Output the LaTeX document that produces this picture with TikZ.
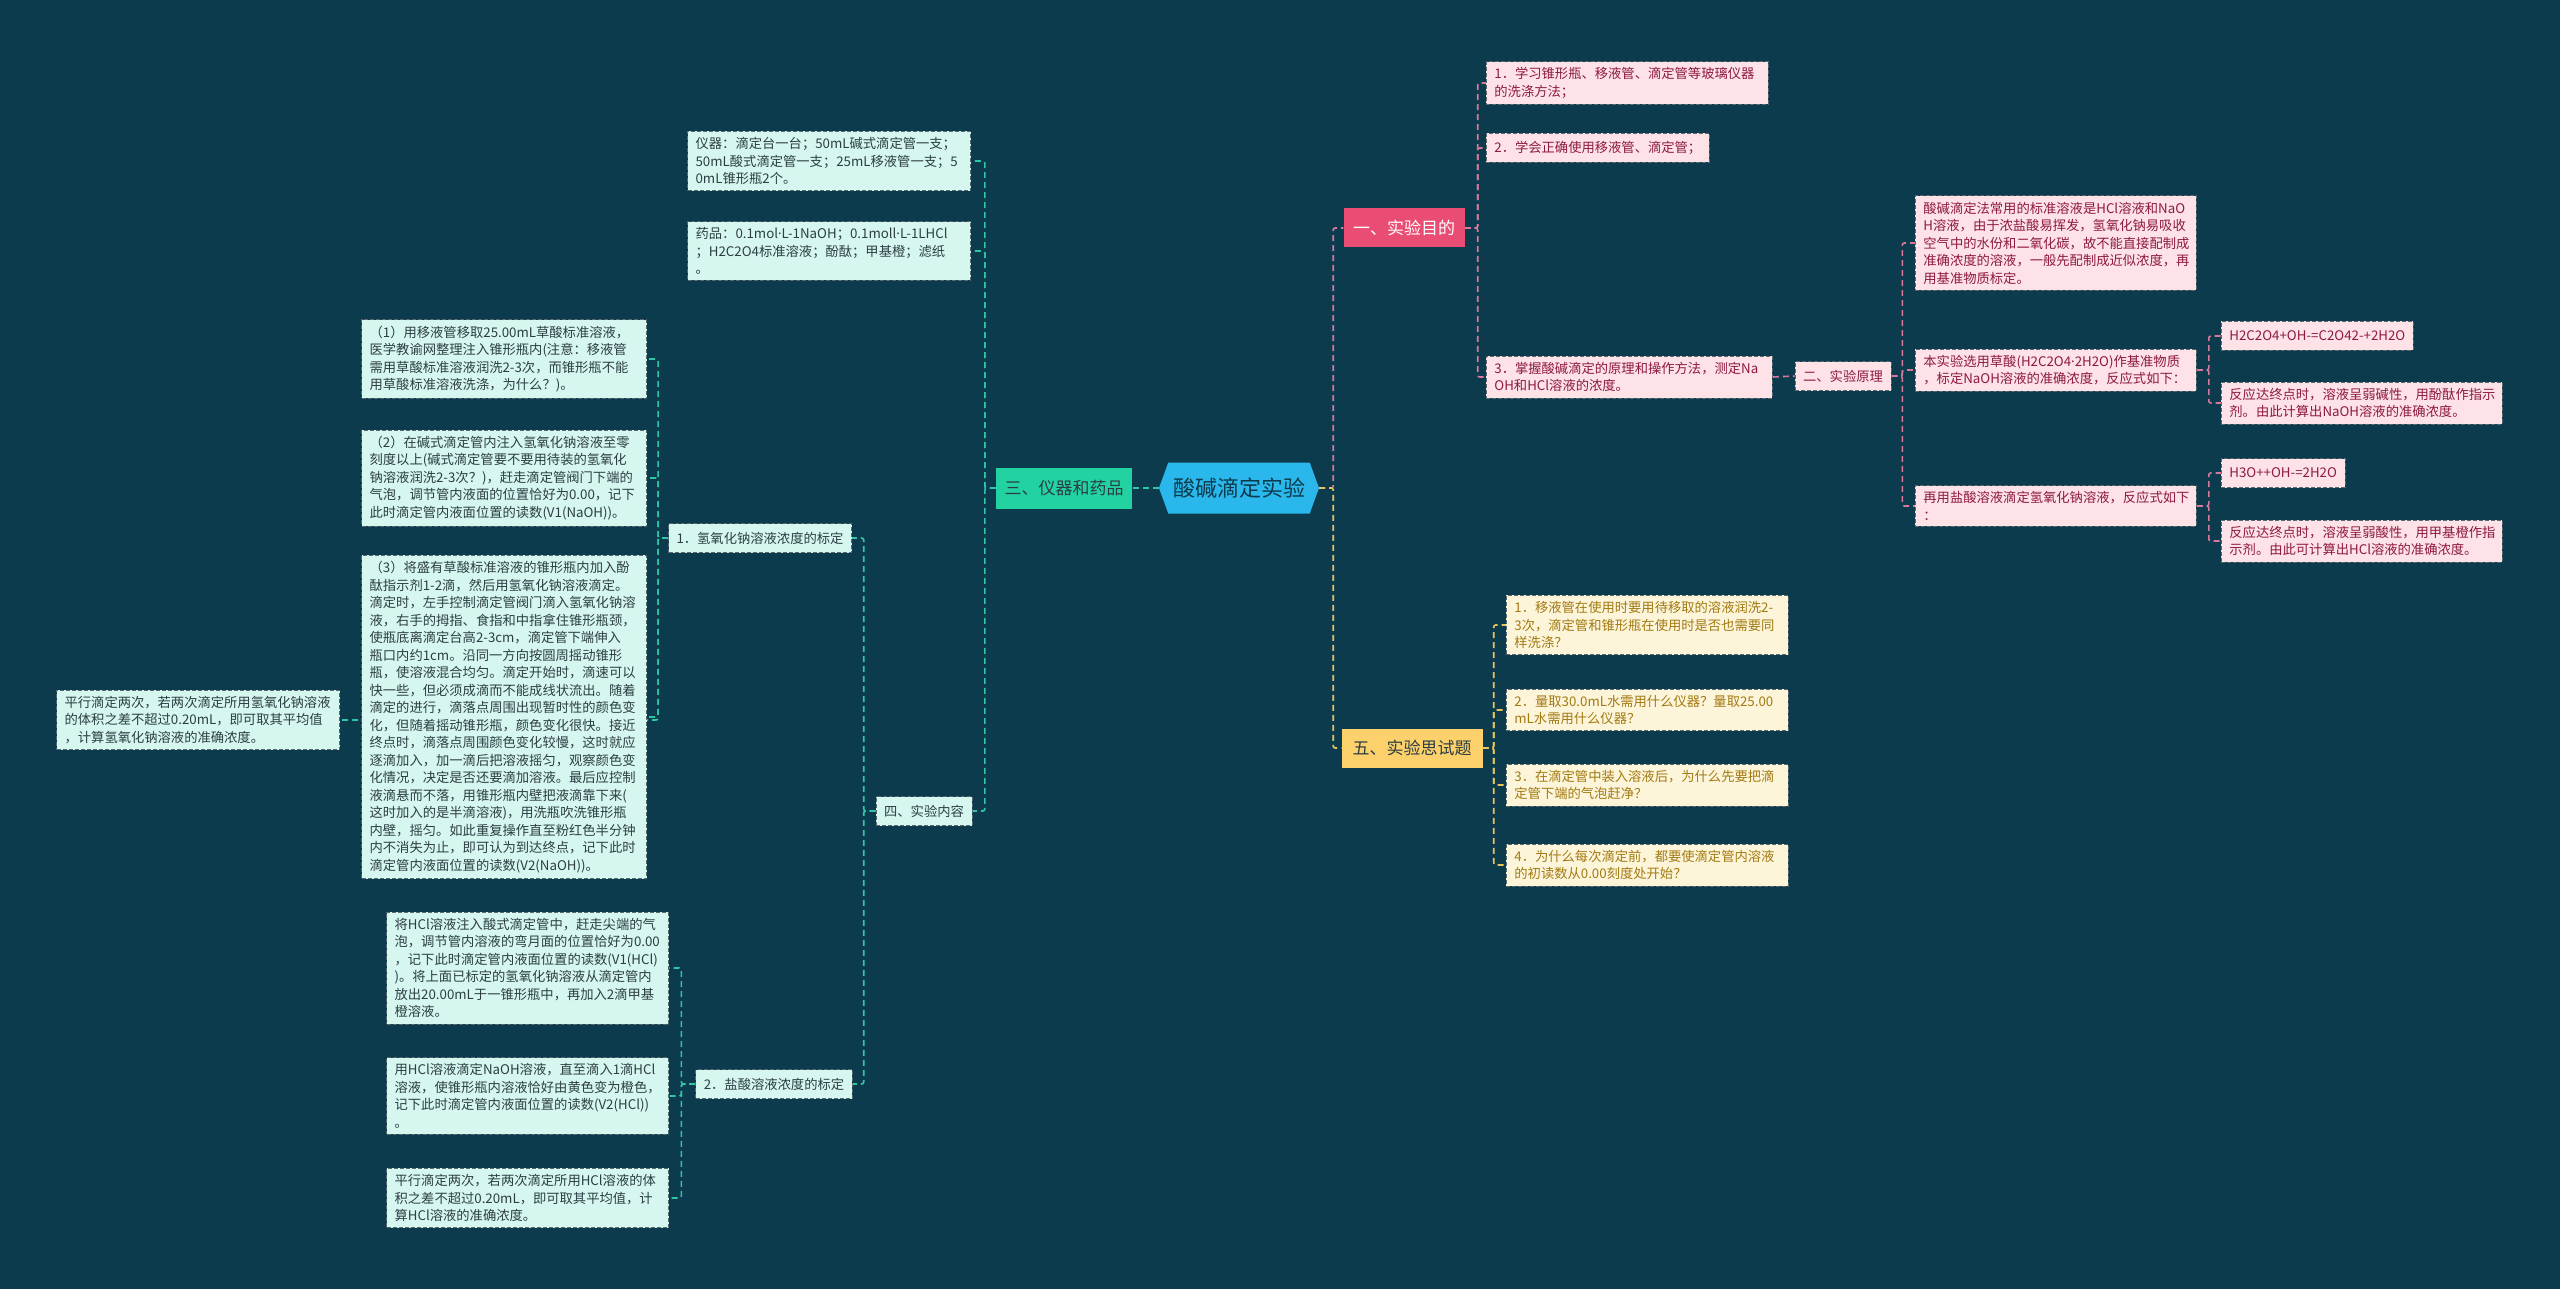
\documentclass[tikz,border=0pt]{standalone}
\usepackage{fontspec}
\setmainfont{Noto Sans CJK SC}
\newfontfamily\latinfont{Noto Sans}
\newcommand{\mydot}{{\latinfont ·}}
\usetikzlibrary{shapes.symbols,backgrounds}
\setlength{\parindent}{0pt}
\exhyphenpenalty=10000
\hyphenpenalty=10000
\definecolor{bgc}{HTML}{0B3B4C}
\definecolor{pkfill}{HTML}{FDE2E7}
\definecolor{pktext}{HTML}{8E1A40}
\definecolor{pkline}{HTML}{D8789A}
\definecolor{mtfill}{HTML}{D6F7EF}
\definecolor{mttext}{HTML}{2C3E44}
\definecolor{mtline}{HTML}{2EC7A6}
\definecolor{ylfill}{HTML}{FDF5DA}
\definecolor{yltext}{HTML}{A27A12}
\definecolor{ylline}{HTML}{E9C45C}
\definecolor{boxline}{HTML}{56686D}
\definecolor{brpk}{HTML}{EA4D73}
\definecolor{brmt}{HTML}{22D3A1}
\definecolor{bryl}{HTML}{FCD06A}
\definecolor{ctr}{HTML}{2AB8EC}
\tikzset{
  base/.style={font=\fontsize{13.3}{17.5}\selectfont, inner xsep=8pt, inner ysep=6pt, align=left,
    minimum height=29pt, draw=boxline, line width=0.8pt, dash pattern=on 4pt off 2pt},
  pk/.style={base, fill=pkfill, text=pktext},
  mt/.style={base, fill=mtfill, text=mttext},
  yl/.style={base, fill=ylfill, text=yltext},
  branch/.style={font=\fontsize{17}{20}\selectfont, inner xsep=8pt, minimum height=39pt},
  conn/.style={line width=1.6pt, dash pattern=on 6pt off 4pt, rounded corners=2pt},
  pkc/.style={conn, draw=pkline},
  mtc/.style={conn, draw=mtline},
  ylc/.style={conn, draw=ylline},
}
\begin{document}
\begin{tikzpicture}[x=1pt,y=-1pt]
\useasboundingbox (0,0) rectangle (2560,1289);

% center and branches
\node[signal, signal to=west and east, signal pointer angle=140, fill=ctr, text=bgc,
  font=\fontsize{22}{26}\selectfont, minimum height=51pt, minimum width=160pt, inner xsep=4pt] (ctr) at (1239,488) {酸碱滴定实验};
\node[branch, fill=brpk, text=white, minimum width=121pt] (b1) at (1404,228) {一、实验目的};
\node[branch, fill=brmt, text=mttext, minimum width=136pt, minimum height=41pt] (b3) at (1064,488) {三、仪器和药品};
\node[branch, fill=bryl, text=mttext, minimum width=141pt] (b5) at (1412,748) {五、实验思试题};

% branch 1
\node[pk, anchor=west, text width=266pt] (p1) at (1486,83) {1．学习锥形瓶、移液管、滴定管等玻璃仪器\\的洗涤方法；};
\node[pk, anchor=west] (p2) at (1486,148) {2．学会正确使用移液管、滴定管；};
\node[pk, anchor=west, text width=270pt] (p3) at (1486,377) {3．掌握酸碱滴定的原理和操作方法，测定Na\\OH和HCl溶液的浓度。};
\node[pk] (p4) at (1843,376) {二、实验原理};
\node[pk, anchor=west, text width=265pt] (r1) at (1915,243) {酸碱滴定法常用的标准溶液是HCl溶液和NaO\\H溶液，由于浓盐酸易挥发，氢氧化钠易吸收\\空气中的水份和二氧化碳，故不能直接配制成\\准确浓度的溶液，一般先配制成近似浓度，再\\用基准物质标定。};
\node[pk, anchor=west, text width=265pt] (r2) at (1915,370) {本实验选用草酸(H2C2O4\mydot 2H2O)作基准物质\\，标定NaOH溶液的准确浓度，反应式如下：};
\node[pk, anchor=west, text width=265pt] (r3) at (1915,506) {再用盐酸溶液滴定氢氧化钠溶液，反应式如下\\：};
\node[pk, anchor=west] (e1) at (2221,336) {H2C2O4+OH-=C2O42-+2H2O};
\node[pk, anchor=west, text width=265pt] (e2) at (2221,403) {反应达终点时，溶液呈弱碱性，用酚酞作指示\\剂。由此计算出NaOH溶液的准确浓度。};
\node[pk, anchor=west] (e3) at (2221,473) {H3O++OH-=2H2O};
\node[pk, anchor=west, text width=265pt] (e4) at (2221,541) {反应达终点时，溶液呈弱酸性，用甲基橙作指\\示剂。由此可计算出HCl溶液的准确浓度。};

% branch 5
\node[yl, anchor=west, text width=266pt] (y1) at (1506,625) {1．移液管在使用时要用待移取的溶液润洗2-\\3次，滴定管和锥形瓶在使用时是否也需要同\\样洗涤？};
\node[yl, anchor=west, text width=266pt] (y2) at (1506,710) {2．量取30.0mL水需用什么仪器？量取25.00\\mL水需用什么仪器？};
\node[yl, anchor=west, text width=266pt] (y3) at (1506,785) {3．在滴定管中装入溶液后，为什么先要把滴\\定管下端的气泡赶净？};
\node[yl, anchor=west, text width=266pt] (y4) at (1506,865) {4．为什么每次滴定前，都要使滴定管内溶液\\的初读数从0.00刻度处开始？};

% branch 3
\node[mt, anchor=east, text width=267pt] (m1) at (971,161) {仪器：滴定台一台；50mL碱式滴定管一支；\\50mL酸式滴定管一支；25mL移液管一支；5\\0mL锥形瓶2个。};
\node[mt, anchor=east, text width=267pt] (m2) at (971,251) {药品：0.1mol\mydot L-1NaOH；0.1moll\mydot L-1LHCl\\；H2C2O4标准溶液；酚酞；甲基橙；滤纸\\。};
\node[mt] (m4) at (924,811) {四、实验内容};
\node[mt] (n1) at (760,538) {1．氢氧化钠溶液浓度的标定};
\node[mt] (n2) at (774,1084) {2．盐酸溶液浓度的标定};
\node[mt, anchor=east, text width=269pt] (s1) at (647,359) {（1）用移液管移取25.00mL草酸标准溶液，\\医学教谕网整理注入锥形瓶内(注意：移液管\\需用草酸标准溶液润洗2-3次，而锥形瓶不能\\用草酸标准溶液洗涤，为什么？)。};
\node[mt, anchor=east, text width=269pt] (s2) at (647,478) {（2）在碱式滴定管内注入氢氧化钠溶液至零\\刻度以上(碱式滴定管要不要用待装的氢氧化\\钠溶液润洗2-3次？)，赶走滴定管阀门下端的\\气泡，调节管内液面的位置恰好为0.00，记下\\此时滴定管内液面位置的读数(V1(NaOH))。};
\node[mt, anchor=east, text width=269pt] (s3) at (647,717) {（3）将盛有草酸标准溶液的锥形瓶内加入酚\\酞指示剂1-2滴，然后用氢氧化钠溶液滴定。\\滴定时，左手控制滴定管阀门滴入氢氧化钠溶\\液，右手的拇指、食指和中指拿住锥形瓶颈，\\使瓶底离滴定台高2-3cm，滴定管下端伸入\\瓶口内约1cm。沿同一方向按圆周摇动锥形\\瓶，使溶液混合均匀。滴定开始时，滴速可以\\快一些，但必须成滴而不能成线状流出。随着\\滴定的进行，滴落点周围出现暂时性的颜色变\\化，但随着摇动锥形瓶，颜色变化很快。接近\\终点时，滴落点周围颜色变化较慢，这时就应\\逐滴加入，加一滴后把溶液摇匀，观察颜色变\\化情况，决定是否还要滴加溶液。最后应控制\\液滴悬而不落，用锥形瓶内壁把液滴靠下来(\\这时加入的是半滴溶液)，用洗瓶吹洗锥形瓶\\内壁，摇匀。如此重复操作直至粉红色半分钟\\内不消失为止，即可认为到达终点，记下此时\\滴定管内液面位置的读数(V2(NaOH))。};
\node[mt, anchor=east, text width=267pt] (s4) at (340,720) {平行滴定两次，若两次滴定所用氢氧化钠溶液\\的体积之差不超过0.20mL，即可取其平均值\\，计算氢氧化钠溶液的准确浓度。};
\node[mt, anchor=east, text width=266pt] (t1) at (669,968) {将HCl溶液注入酸式滴定管中，赶走尖端的气\\泡，调节管内溶液的弯月面的位置恰好为0.00\\，记下此时滴定管内液面位置的读数(V1(HCl)\\)。将上面已标定的氢氧化钠溶液从滴定管内\\放出20.00mL于一锥形瓶中，再加入2滴甲基\\橙溶液。};
\node[mt, anchor=east, text width=266pt] (t2) at (669,1096) {用HCl溶液滴定NaOH溶液，直至滴入1滴HCl\\溶液，使锥形瓶内溶液恰好由黄色变为橙色，\\记下此时滴定管内液面位置的读数(V2(HCl))\\。};
\node[mt, anchor=east, text width=266pt] (t3) at (669,1198) {平行滴定两次，若两次滴定所用HCl溶液的体\\积之差不超过0.20mL，即可取其平均值，计\\算HCl溶液的准确浓度。};

\begin{pgfonlayer}{background}
\fill[bgc] (0,0) rectangle (2560,1289);
% center connectors
\draw[pkc] (ctr.east) -- ++(14,0) |- (b1.west);
\draw[ylc] (ctr.east) -- ++(14,0) |- (b5.west);
\draw[mtc] (ctr.west) -- (b3.east);
% branch 1
\foreach \c in {p1,p2,p3} \draw[pkc] (b1.east) -- ++(13,0) |- (\c.west);
\draw[pkc] (p3.east) -- (p4.west);
\foreach \c in {r1,r2,r3} \draw[pkc] (p4.east) -- ++(11,0) |- (\c.west);
\foreach \c in {e1,e2} \draw[pkc] (r2.east) -- ++(12,0) |- (\c.west);
\foreach \c in {e3,e4} \draw[pkc] (r3.east) -- ++(12,0) |- (\c.west);
% branch 5
\foreach \c in {y1,y2,y3,y4} \draw[ylc] (b5.east) -- ++(11,0) |- (\c.west);
% branch 3
\foreach \c in {m1,m2,m4} \draw[mtc] (b3.west) -- ++(-11,0) |- (\c.east);
\foreach \c in {n1,n2} \draw[mtc] (m4.west) -- ++(-12,0) |- (\c.east);
\foreach \c in {s1,s2,s3,s4} \draw[mtc] (n1.west) -- ++(-10,0) |- (\c.east);
\foreach \c in {t1,t2,t3} \draw[mtc] (n2.west) -- ++(-14,0) |- (\c.east);
\end{pgfonlayer}
\end{tikzpicture}
\end{document}
